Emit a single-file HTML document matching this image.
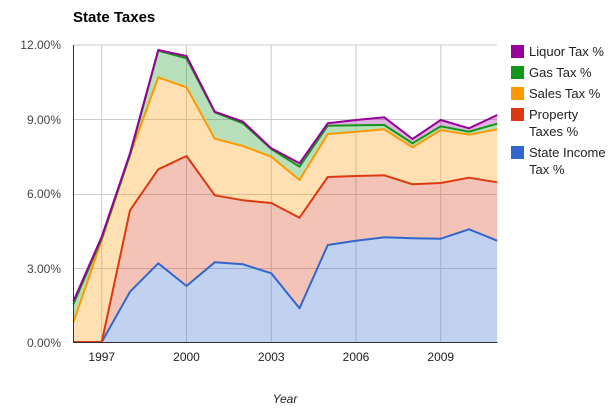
<!DOCTYPE html>
<html><head><style>body{margin:0;background:#fff}svg{display:block}text{font-family:"Liberation Sans",Arial,sans-serif}</style></head>
<body>
<svg width="611" height="408" viewBox="0 0 611 408" xmlns="http://www.w3.org/2000/svg">
<text x="73" y="22" font-size="15" font-weight="bold" fill="#000">State Taxes</text>
<g stroke="#ccc" stroke-width="1">
<line x1="73.5" y1="45" x2="497" y2="45"/><line x1="73.5" y1="119.5" x2="497" y2="119.5"/><line x1="73.5" y1="194.5" x2="497" y2="194.5"/><line x1="73.5" y1="268.5" x2="497" y2="268.5"/>
<line x1="101.75" y1="45" x2="101.75" y2="342"/><line x1="186.5" y1="45" x2="186.5" y2="342"/><line x1="271.25" y1="45" x2="271.25" y2="342"/><line x1="356" y1="45" x2="356" y2="342"/><line x1="440.75" y1="45" x2="440.75" y2="342"/>
</g>
<!-- purple -->
<polygon fill="#990099" fill-opacity="0.3" points="73.5,301 101.75,236.7 130,153.3 158.25,50 186.5,56 214.75,111.7 243,121.7 271.25,148.3 299.5,163.3 327.75,123.3 356,120 384.25,117.3 412.5,139 440.75,120 469,128.3 497.25,115 497.25,123.7 469,131.7 440.75,126.3 412.5,143.3 384.25,125 356,125.3 327.75,125.7 299.5,166.7 271.25,149 243,123.3 214.75,112.3 186.5,58.3 158.25,50.7 130,155 101.75,238.3 73.5,304"/>
<polygon fill="#109618" fill-opacity="0.3" points="73.5,304 101.75,238.3 130,155 158.25,50.7 186.5,58.3 214.75,112.3 243,123.3 271.25,149 299.5,166.7 327.75,125.7 356,125.3 384.25,125 412.5,143.3 440.75,126.3 469,131.7 497.25,123.7 497.25,129.3 469,134.7 440.75,130 412.5,147.3 384.25,129.3 356,131.7 327.75,134 299.5,180 271.25,156.7 243,146 214.75,138.7 186.5,87.3 158.25,77.3 130,155 101.75,240 73.5,322"/>
<polygon fill="#ff9900" fill-opacity="0.3" points="73.5,322 101.75,240 130,155 158.25,77.3 186.5,87.3 214.75,138.7 243,146 271.25,156.7 299.5,180 327.75,134 356,131.7 384.25,129.3 412.5,147.3 440.75,130 469,134.7 497.25,129.3 497.25,182.3 469,177.7 440.75,183 412.5,184.3 384.25,175.3 356,176 327.75,177 299.5,217.7 271.25,203 243,200.3 214.75,195.3 186.5,156 158.25,169.3 130,210.3 101.75,342 73.5,342"/>
<polygon fill="#dc3912" fill-opacity="0.3" points="73.5,342 101.75,342 130,210.3 158.25,169.3 186.5,156 214.75,195.3 243,200.3 271.25,203 299.5,217.7 327.75,177 356,176 384.25,175.3 412.5,184.3 440.75,183 469,177.7 497.25,182.3 497.25,240.7 469,229.3 440.75,238.7 412.5,238.3 384.25,237.3 356,240.7 327.75,245 299.5,308.3 271.25,273.3 243,264.3 214.75,262.3 186.5,286 158.25,263.3 130,291.7 101.75,342 73.5,342"/>
<polygon fill="#3366cc" fill-opacity="0.3" points="73.5,342 101.75,342 130,291.7 158.25,263.3 186.5,286 214.75,262.3 243,264.3 271.25,273.3 299.5,308.3 327.75,245 356,240.7 384.25,237.3 412.5,238.3 440.75,238.7 469,229.3 497.25,240.7 497.25,342"/>
<g fill="none" stroke-width="2" stroke-linejoin="round">
<polyline stroke="#3366cc" points="73.5,342 101.75,342 130,291.7 158.25,263.3 186.5,286 214.75,262.3 243,264.3 271.25,273.3 299.5,308.3 327.75,245 356,240.7 384.25,237.3 412.5,238.3 440.75,238.7 469,229.3 497.25,240.7"/>
<polyline stroke="#dc3912" points="73.5,342 101.75,342 130,210.3 158.25,169.3 186.5,156 214.75,195.3 243,200.3 271.25,203 299.5,217.7 327.75,177 356,176 384.25,175.3 412.5,184.3 440.75,183 469,177.7 497.25,182.3"/>
<polyline stroke="#ff9900" points="73.5,322 101.75,240 130,155 158.25,77.3 186.5,87.3 214.75,138.7 243,146 271.25,156.7 299.5,180 327.75,134 356,131.7 384.25,129.3 412.5,147.3 440.75,130 469,134.7 497.25,129.3"/>
<polyline stroke="#109618" points="73.5,304 101.75,238.3 130,155 158.25,50.7 186.5,58.3 214.75,112.3 243,123.3 271.25,149 299.5,166.7 327.75,125.7 356,125.3 384.25,125 412.5,143.3 440.75,126.3 469,131.7 497.25,123.7"/>
<polyline stroke="#990099" points="73.5,301 101.75,236.7 130,153.3 158.25,50 186.5,56 214.75,111.7 243,121.7 271.25,148.3 299.5,163.3 327.75,123.3 356,120 384.25,117.3 412.5,139 440.75,120 469,128.3 497.25,115"/>
</g>
<line x1="73.5" y1="45" x2="73.5" y2="342.5" stroke="#333" stroke-width="1"/>
<line x1="73" y1="342.5" x2="497.5" y2="342.5" stroke="#333" stroke-width="1"/>
<g font-size="12" fill="#444" text-anchor="end">
<text x="61" y="49">12.00%</text><text x="61" y="124">9.00%</text><text x="61" y="198">6.00%</text><text x="61" y="273">3.00%</text><text x="61" y="347">0.00%</text>
</g>
<g font-size="12" fill="#222" text-anchor="middle">
<text x="101.75" y="361">1997</text><text x="186.5" y="361">2000</text><text x="271.25" y="361">2003</text><text x="356" y="361">2006</text><text x="440.75" y="361">2009</text>
</g>
<text x="285" y="403" font-size="12" font-style="italic" fill="#222" text-anchor="middle">Year</text>
<g font-size="13" fill="#222">
<rect x="511" y="45" width="13" height="13" fill="#990099"/><text x="529" y="56">Liquor Tax %</text>
<rect x="511" y="66" width="13" height="13" fill="#109618"/><text x="529" y="77">Gas Tax %</text>
<rect x="511" y="87" width="13" height="13" fill="#ff9900"/><text x="529" y="98">Sales Tax %</text>
<rect x="511" y="108" width="13" height="13" fill="#dc3912"/><text x="529" y="119">Property</text><text x="529" y="136">Taxes %</text>
<rect x="511" y="146" width="13" height="13" fill="#3366cc"/><text x="529" y="157">State Income</text><text x="529" y="174">Tax %</text>
</g>
</svg>
</body></html>
